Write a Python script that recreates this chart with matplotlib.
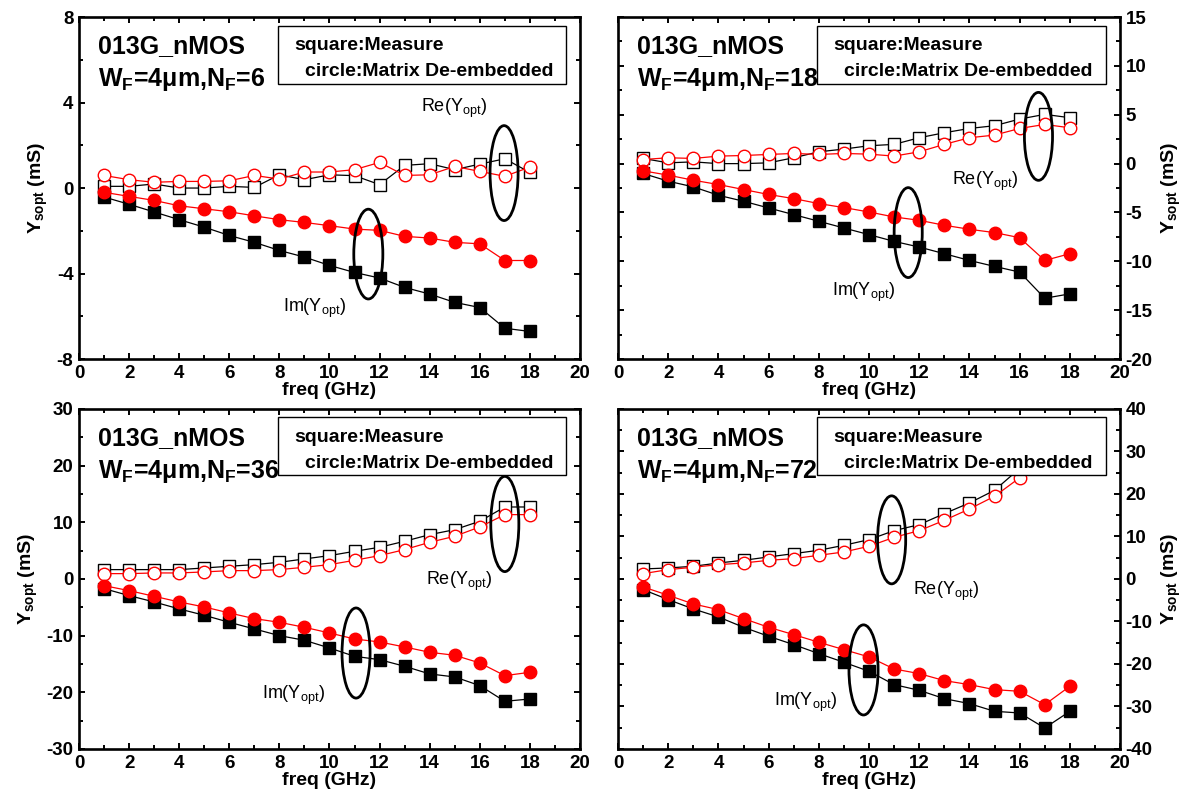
import matplotlib
matplotlib.use("Agg")
import matplotlib.pyplot as plt
from matplotlib.patches import Ellipse, Rectangle
from matplotlib.ticker import MultipleLocator

plt.rcParams['font.family'] = ['Liberation Sans', 'DejaVu Sans']
plt.rcParams['mathtext.fontset'] = 'custom'
plt.rcParams['mathtext.rm'] = 'Liberation Sans'
plt.rcParams['mathtext.bf'] = 'Liberation Sans:bold'
plt.rcParams['mathtext.it'] = 'Liberation Sans:italic'
plt.rcParams['axes.unicode_minus'] = False

freq = list(range(1, 19))  # GHz

# N_F = 6
nf6_re_meas = [0.08, 0.08, 0.19, 0.0, 0.0, 0.08, 0.03, 0.62, 0.39, 0.62, 0.58, 0.16,
               1.06, 1.14, 0.86, 1.12, 1.37, 0.73]
nf6_re_deemb = [0.59, 0.39, 0.27, 0.31, 0.31, 0.34, 0.59, 0.42, 0.75, 0.75, 0.86, 1.20,
                0.59, 0.62, 1.01, 0.78, 0.55, 0.98]
nf6_im_meas = [-0.42, -0.76, -1.12, -1.48, -1.83, -2.22, -2.54, -2.92, -3.23, -3.62, -3.95,
               -4.21, -4.65, -4.96, -5.35, -5.59, -6.56, -6.71]
nf6_im_deemb = [-0.20, -0.39, -0.58, -0.83, -0.97, -1.11, -1.30, -1.48, -1.61, -1.76, -1.92,
                -1.98, -2.26, -2.34, -2.54, -2.61, -3.39, -3.39]

# N_F = 18
nf18_re_meas = [0.53, 0.08, 0.18, 0.0, 0.0, 0.08, 0.60, 1.21, 1.49, 1.83, 1.97, 2.65,
                3.16, 3.60, 3.88, 4.56, 5.04, 4.70]
nf18_re_deemb = [0.42, 0.60, 0.53, 0.77, 0.83, 0.94, 1.04, 0.94, 1.04, 0.97, 0.77, 1.21,
                 1.97, 2.65, 2.92, 3.60, 4.01, 3.67]
nf18_im_meas = [-1.01, -1.80, -2.38, -3.24, -3.85, -4.54, -5.22, -5.90, -6.59, -7.27, -7.96,
                -8.54, -9.22, -9.91, -10.52, -11.10, -13.78, -13.33]
nf18_im_deemb = [-0.74, -1.18, -1.70, -2.14, -2.65, -3.16, -3.58, -4.09, -4.50, -4.95, -5.46,
                 -5.80, -6.31, -6.72, -7.06, -7.58, -9.91, -9.22]

# N_F = 36
nf36_re_meas = [1.65, 1.65, 1.65, 1.65, 1.94, 2.24, 2.53, 2.94, 3.53, 4.12, 4.88, 5.59,
                6.65, 7.82, 8.70, 10.18, 12.70, 12.70]
nf36_re_deemb = [0.94, 0.94, 1.06, 1.06, 1.24, 1.47, 1.47, 1.65, 2.06, 2.53, 3.29, 4.12,
                 5.18, 6.47, 7.53, 9.18, 11.35, 11.35]
nf36_im_meas = [-1.71, -2.94, -4.06, -5.29, -6.41, -7.65, -8.82, -10.00, -10.82, -12.18,
                -13.65, -14.24, -15.41, -16.76, -17.29, -18.82, -21.59, -21.18]
nf36_im_deemb = [-1.18, -2.06, -3.06, -4.06, -4.94, -6.00, -7.00, -7.65, -8.53, -9.53,
                 -10.59, -11.12, -12.00, -12.94, -13.47, -14.82, -17.06, -16.47]

# N_F = 72
nf72_re_meas = [2.35, 2.59, 2.98, 3.76, 4.39, 5.18, 5.96, 6.75, 7.92, 9.25, 11.37, 12.78,
                15.37, 17.88, 20.86, 26.0, 30.0, 29.5]
nf72_re_deemb = [1.25, 2.20, 2.75, 3.37, 3.76, 4.39, 4.78, 5.57, 6.35, 7.69, 9.80, 11.37,
                 13.80, 16.47, 19.45, 23.8, 28.0, 27.0]
nf72_im_meas = [-2.51, -4.86, -7.06, -8.94, -11.37, -13.49, -15.45, -17.57, -19.61, -21.73,
                -24.86, -26.20, -28.16, -29.33, -31.14, -31.53, -35.06, -31.14]
nf72_im_deemb = [-1.88, -3.84, -5.88, -7.22, -9.33, -11.37, -13.10, -14.90, -16.63, -18.35,
                 -21.18, -22.27, -23.92, -24.86, -26.04, -26.43, -29.57, -25.25]

finger_counts = [6, 18, 36, 72]
x_ticks = [0, 2, 4, 6, 8, 10, 12, 14, 16, 18, 20]

fig = plt.figure(figsize=(12.01, 8.05), dpi=100)
fig.patch.set_facecolor('white')

# panel layout: [left, bottom, width, height], y-limits, y-major, y-minor, side
panels = [
    dict(rect=[0.0658, 0.554, 0.4171, 0.4248], ylim=(-8, 8), major=4, minor=2, side='left',
         data=(nf6_re_meas, nf6_re_deemb, nf6_im_meas, nf6_im_deemb),
         re_txt=(0.683, 0.722), im_txt=(0.407, 0.137),
         re_ell=(16.97, 0.7, 1.12, 4.44), im_ell=(11.55, -3.09, 1.16, 4.2)),
    dict(rect=[0.5146, 0.554, 0.4180, 0.4248], ylim=(-20, 15), major=5, minor=2.5, side='right',
         data=(nf18_re_meas, nf18_re_deemb, nf18_im_meas, nf18_im_deemb),
         re_txt=(0.665, 0.509), im_txt=(0.426, 0.184),
         re_ell=(16.75, 2.79, 1.12, 9.0), im_ell=(11.56, -7.06, 1.12, 9.2)),
    dict(rect=[0.0658, 0.0696, 0.4171, 0.4224], ylim=(-30, 30), major=10, minor=5, side='left',
         data=(nf36_re_meas, nf36_re_deemb, nf36_im_meas, nf36_im_deemb),
         re_txt=(0.693, 0.482), im_txt=(0.365, 0.147),
         re_ell=(17.0, 9.7, 1.12, 16.8), im_ell=(11.06, -13.07, 1.12, 15.9)),
    dict(rect=[0.5146, 0.0696, 0.4180, 0.4224], ylim=(-40, 40), major=10, minor=5, side='right',
         data=(nf72_re_meas, nf72_re_deemb, nf72_im_meas, nf72_im_deemb),
         re_txt=(0.588, 0.453), im_txt=(0.311, 0.126),
         re_ell=(10.9, 9.2, 1.12, 20.7), im_ell=(9.78, -21.4, 1.16, 21.2)),
]

RED = '#ff0000'
ms = 8.5

for nf, p in zip(finger_counts, panels):
    ax = fig.add_axes(p['rect'])
    re_m, re_d, im_m, im_d = p['data']

    ax.plot(freq, re_m, color='black', lw=0.9, marker='s', ms=ms, mfc='white',
            mec='black', mew=1.0, zorder=3)
    ax.plot(freq, re_d, color=RED, lw=0.9, marker='o', ms=ms + 0.5, mfc='white',
            mec=RED, mew=1.0, zorder=4)
    ax.plot(freq, im_m, color='black', lw=0.9, marker='s', ms=ms, mfc='black',
            mec='black', zorder=3)
    ax.plot(freq, im_d, color=RED, lw=0.9, marker='o', ms=ms + 0.5, mfc=RED,
            mec=RED, zorder=4)

    ax.set_xlim(0, 20)
    ax.set_ylim(*p['ylim'])
    ax.set_xticks(x_ticks)
    ax.xaxis.set_minor_locator(MultipleLocator(1))
    ax.yaxis.set_major_locator(MultipleLocator(p['major']))
    ax.yaxis.set_minor_locator(MultipleLocator(p['minor']))

    for s in ax.spines.values():
        s.set_linewidth(1.9)

    right = p['side'] == 'right'
    ax.tick_params(which='both', direction='in', top=True, bottom=True, left=True, right=True,
                   labelleft=not right, labelright=right, width=1.4)
    ax.tick_params(which='major', length=4.5, pad=4, labelsize=13.5)
    ax.tick_params(which='minor', length=3)
    for lab in ax.get_xticklabels() + ax.get_yticklabels():
        lab.set_fontweight('bold')

    ax.set_xlabel('freq (GHz)', fontsize=14, fontweight='bold', labelpad=0)
    ax.set_ylabel(r'Y$_\mathbf{sopt}$ (mS)', fontsize=14, fontweight='bold', labelpad=5)
    if right:
        ax.yaxis.set_label_position('right')

    # device description
    ax.text(0.037, 0.895, '013G_nMOS', transform=ax.transAxes, fontsize=18,
            fontweight='bold', ha='left', va='baseline', zorder=6)
    ax.text(0.037, 0.797, r'W$_\mathbf{F}$=4μm,N$_\mathbf{F}$=%d' % nf, transform=ax.transAxes,
            fontsize=18, fontweight='bold', ha='left', va='baseline', zorder=6)

    # marker key box
    ax.add_patch(Rectangle((0.397, 0.805), 0.575, 0.17, transform=ax.transAxes,
                           facecolor='white', edgecolor='black', lw=1.0, zorder=5))
    ax.text(0.429, 0.904, 'square:Measure', transform=ax.transAxes, fontsize=14,
            fontweight='bold', ha='left', va='baseline', zorder=6)
    ax.text(0.451, 0.827, 'circle:Matrix De-embedded', transform=ax.transAxes,
            fontsize=14, fontweight='bold', ha='left', va='baseline', zorder=6)

    # Re / Im group labels with ellipses
    ax.text(*p['re_txt'], r'Re(Y$_\mathrm{opt}$)', transform=ax.transAxes, fontsize=13,
            ha='left', va='baseline', zorder=6)
    ax.text(*p['im_txt'], r'Im(Y$_\mathrm{opt}$)', transform=ax.transAxes, fontsize=13,
            ha='left', va='baseline', zorder=6)
    for cx, cy, w, h in (p['re_ell'], p['im_ell']):
        ax.add_patch(Ellipse((cx, cy), w, h, fill=False, edgecolor='black', lw=2.0, zorder=6))

fig.savefig('out.png', dpi=100, facecolor='white')
